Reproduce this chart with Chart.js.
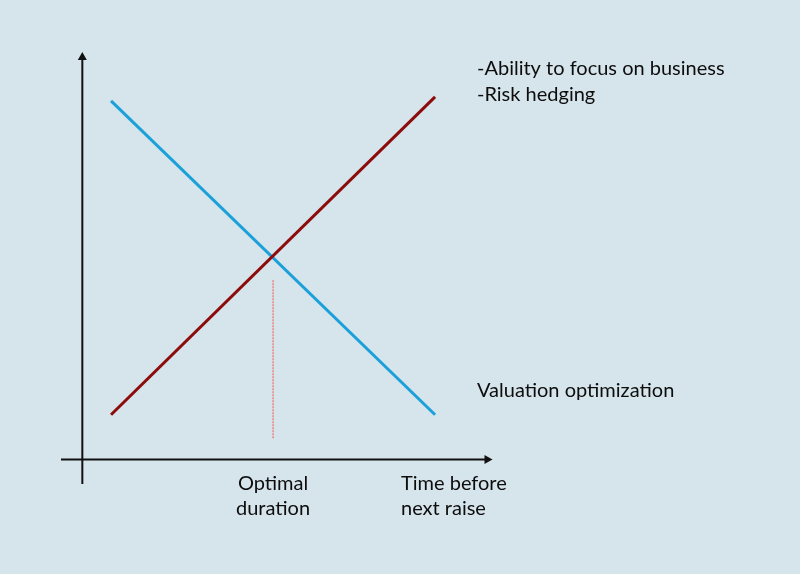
<!DOCTYPE html>
<html>
<head>
<meta charset="utf-8">
<script src="https://cdn.jsdelivr.net/npm/chart.js@4"></script>
<style>
  html, body { margin: 0; padding: 0; background: #d6e4eb; }
  #wrap { width: 800px; height: 574px; position: relative; }
</style>
</head>
<body>
<div id="wrap"><canvas id="tradeoffChart"></canvas></div>
<script>
// ===== Time before next raise: trade-off chart =====

// series: [x, y] in abstract 0..100 units, origin at the axes crossing
const riskLine = [[7, 11], [86, 89]];        // dark red, rising
const valuationLine = [[7, 88], [86, 11]];   // blue, falling
const optimalMarker = [[46.5, 44], [46.5, 5]];

const xRange = [-5.2, 100];
const yRange = [-6, 100];

// labels
const topLabels = ["-Ability to focus on business", "-Risk hedging"];
const bottomRightLabel = "Valuation optimization";
const optimalLabel = ["Optimal", "duration"];
const xAxisLabel = ["Time before", "next raise"];

function toPoints(arr) {
  return arr.map(function (p) { return { x: p[0], y: p[1] }; });
}

const axesPlugin = {
  id: "axesPlugin",
  beforeDatasetsDraw(chart) {
    const ctx = chart.ctx;
    const xs = chart.scales.x;
    const ys = chart.scales.y;
    const ox = xs.getPixelForValue(0);
    const oy = ys.getPixelForValue(0);

    ctx.save();
    ctx.strokeStyle = "#111";
    ctx.fillStyle = "#111";
    ctx.lineWidth = 2;

    // y axis
    ctx.beginPath();
    ctx.moveTo(ox, ys.getPixelForValue(yRange[0]));
    ctx.lineTo(ox, ys.getPixelForValue(yRange[1]) + 6);
    ctx.stroke();
    ctx.beginPath();
    ctx.moveTo(ox, ys.getPixelForValue(yRange[1]));
    ctx.lineTo(ox - 4.5, ys.getPixelForValue(yRange[1]) + 8);
    ctx.lineTo(ox + 4.5, ys.getPixelForValue(yRange[1]) + 8);
    ctx.closePath();
    ctx.fill();

    // x axis
    ctx.beginPath();
    ctx.moveTo(xs.getPixelForValue(xRange[0]), oy);
    ctx.lineTo(xs.getPixelForValue(xRange[1]) - 6, oy);
    ctx.stroke();
    ctx.beginPath();
    ctx.moveTo(xs.getPixelForValue(xRange[1]), oy);
    ctx.lineTo(xs.getPixelForValue(xRange[1]) - 8, oy - 4.5);
    ctx.lineTo(xs.getPixelForValue(xRange[1]) - 8, oy + 4.5);
    ctx.closePath();
    ctx.fill();
    ctx.restore();
  },
  afterDraw(chart) {
    const ctx = chart.ctx;
    ctx.save();
    ctx.fillStyle = "#0d0d0d";
    ctx.font = "20px Lato, 'Open Sans', sans-serif";
    ctx.textBaseline = "alphabetic";

    ctx.textAlign = "left";
    ctx.fillText(topLabels[0], 477, 75);
    ctx.fillText(topLabels[1], 477, 101);
    ctx.fillText(bottomRightLabel, 477, 397);
    ctx.fillText(xAxisLabel[0], 401, 490);
    ctx.fillText(xAxisLabel[1], 401, 515);

    ctx.textAlign = "center";
    const mx = chart.scales.x.getPixelForValue(optimalMarker[0][0]);
    ctx.fillText(optimalLabel[0], mx, 490);
    ctx.fillText(optimalLabel[1], mx, 515);
    ctx.restore();
  }
};

const ctx = document.getElementById("tradeoffChart").getContext("2d");
new Chart(ctx, {
  type: "line",
  data: {
    datasets: [
      {
        data: toPoints(riskLine),
        borderColor: "#8c0c0c",
        borderWidth: 3,
        pointRadius: 0
      },
      {
        data: toPoints(valuationLine),
        borderColor: "#1ba0da",
        borderWidth: 3,
        pointRadius: 0
      },
      {
        data: toPoints(optimalMarker),
        borderColor: "#f06a6a",
        borderWidth: 1.2,
        borderDash: [2, 1],
        pointRadius: 0
      }
    ]
  },
  options: {
    responsive: true,
    maintainAspectRatio: false,
    animation: false,
    layout: { padding: { left: 61, right: 307.5, top: 52, bottom: 90 } },
    plugins: {
      legend: { display: false },
      tooltip: { enabled: false }
    },
    scales: {
      x: { type: "linear", min: xRange[0], max: xRange[1], display: false },
      y: { type: "linear", min: yRange[0], max: yRange[1], display: false }
    }
  },
  plugins: [axesPlugin]
});
</script>
</body>
</html>
